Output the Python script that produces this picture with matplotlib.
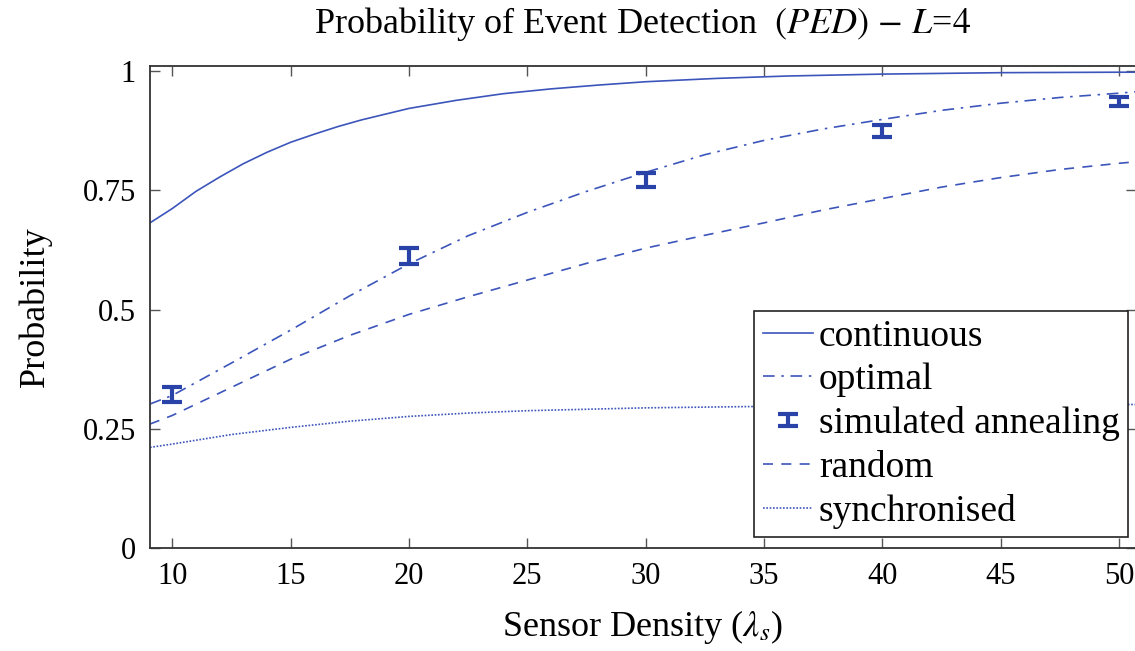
import numpy as np
import matplotlib
matplotlib.use('Agg')
import matplotlib.pyplot as plt
from matplotlib.container import ErrorbarContainer
from matplotlib.legend_handler import HandlerErrorbar

plt.rcParams['font.family'] = ['Liberation Serif', 'DejaVu Serif']
plt.rcParams['mathtext.fontset'] = 'stix'

# values
x_cont = [9.06, 10, 11, 12, 13, 14, 15, 16, 17, 18, 20, 22, 24, 26, 28, 30, 33, 36, 40, 45, 50, 50.7]
continuous = [0.682, 0.712, 0.748, 0.778, 0.806, 0.830, 0.851, 0.868, 0.884, 0.898, 0.922, 0.939,
              0.953, 0.963, 0.971, 0.978, 0.985, 0.990, 0.994, 0.997, 0.998, 0.998]

x_opt = [9.06, 10, 12.5, 15, 17.5, 20, 22.5, 25, 27.5, 30, 32.5, 35, 37.5, 40, 42.5, 45, 47.5, 50, 50.7]
optimal = [0.302, 0.320, 0.388, 0.457, 0.529, 0.596, 0.655, 0.704, 0.748, 0.788, 0.825, 0.855,
           0.879, 0.899, 0.918, 0.933, 0.945, 0.954, 0.957]

x_sa = [10, 20, 30, 40, 50]
sa = [0.322, 0.612, 0.772, 0.875, 0.937]
sa_err = [0.016, 0.017, 0.015, 0.012, 0.010]

x_rand = [9.06, 10, 12.5, 15, 17.5, 20, 22.5, 25, 27.5, 30, 32.5, 35, 37.5, 40, 42.5, 45, 47.5, 50, 50.7]
rand = [0.260, 0.278, 0.337, 0.396, 0.446, 0.490, 0.527, 0.562, 0.597, 0.629, 0.656, 0.682,
        0.709, 0.733, 0.757, 0.777, 0.794, 0.807, 0.810]

x_sync = [9.06, 10, 12.5, 15, 17.5, 20, 22.5, 25, 30, 35, 40, 45, 50, 50.7]
sync = [0.211, 0.218, 0.238, 0.253, 0.266, 0.276, 0.283, 0.288, 0.294, 0.297, 0.299, 0.300, 0.301, 0.301]

line_c = '#3c55bb'
bar_c = '#2a43a8'

fig = plt.figure(figsize=(11.35, 6.51), dpi=100)
ax = fig.add_axes([150/1135, 1-548/651, 986/1135, 482/651])

h1, = ax.plot(x_cont, continuous, '-', color=line_c, lw=1.2, label='continuous')
h2, = ax.plot(x_opt, optimal, color=line_c, lw=1.2, dashes=[7, 4, 1.5, 4], label='optimal')
h3 = ax.errorbar(x_sa, sa, yerr=sa_err, fmt='none', ecolor=bar_c, elinewidth=3,
                 capsize=7, capthick=3, label='simulated annealing')
h4, = ax.plot(x_rand, rand, color=line_c, lw=1.2, dashes=[6, 5], label='random')
h5, = ax.plot(x_sync, sync, color=line_c, lw=1.2, dashes=[1, 1], label='synchronised')

ax.set_xlim(9.06, 50.71)
ax.set_ylim(0, 1.011)
ax.set_xticks([10, 15, 20, 25, 30, 35, 40, 45, 50])
ax.set_yticks([0, 0.25, 0.5, 0.75, 1])
ax.set_yticklabels(['0', '0.25', '0.5', '0.75', '1'])
ax.tick_params(direction='in', length=7, width=1, color='#555555',
               top=True, right=True, labelsize=22, pad=10)
for s in ax.spines.values():
    s.set_linewidth(1.3)
    s.set_color('#333333')

ax.set_xlabel('Sensor Density ($\\lambda_s$)', fontsize=26, labelpad=12)
ax.set_ylabel('Probability', fontsize=26, labelpad=22)
ax.set_title('Probability of Event Detection  $\\mathit{(PED)}$ $-$ $\\mathit{L}$=$\\mathit{4}$',
             fontsize=26, pad=24)

leg = ax.legend([h1, h2, h3, h4, h5],
                ['continuous', 'optimal', 'simulated annealing', 'random', 'synchronised'],
                loc='lower right', bbox_to_anchor=(0.992, 0.023), borderaxespad=0,
                fontsize=27, fancybox=False, edgecolor='#222222', framealpha=1,
                handlelength=1.35, handletextpad=0.15, labelspacing=0.24,
                borderpad=0.22,
                handler_map={ErrorbarContainer: HandlerErrorbar(yerr_size=0.15)})
leg.get_frame().set_linewidth(1.2)

fig.savefig('out.png', dpi=100)
